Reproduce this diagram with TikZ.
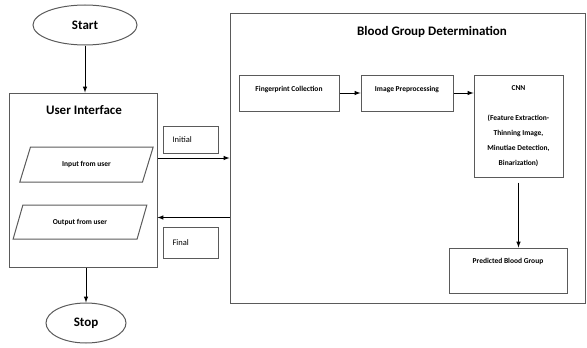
\documentclass[tikz,border=0pt]{standalone}
\usepackage{fontspec}
\setmainfont{Carlito}
\usepackage{xcolor}
\usepackage{tikz}
\usetikzlibrary{arrows,shapes}
\definecolor{boxgray}{RGB}{90,90,90}

\begin{document}
\begin{tikzpicture}[x=1pt,y=-1pt,>=latex,
	box/.style={draw=boxgray,line width=1pt,rectangle,inner sep=0pt},
	io/.style={draw=boxgray,line width=1pt,trapezium,trapezium left angle=54,trapezium right angle=126,trapezium stretches=true,inner sep=0pt,font=\fontsize{7.5}{9}\selectfont\bfseries},
	term/.style={draw=boxgray,line width=1pt,ellipse,font=\fontsize{13}{15}\selectfont\bfseries},
	small/.style={font=\fontsize{7.5}{9}\selectfont\bfseries},
	tag/.style={box,minimum width=55pt,text width=36pt,align=left,font=\fontsize{8.5}{10}\selectfont}]
	\useasboundingbox (0,0) rectangle (587,348);
	%
	\node[term,minimum width=104pt,minimum height=40pt] (start) at (85,25) {Start};
	\node[box,minimum width=148pt,minimum height=174pt] (ui) at (83,180) {};
	\node[font=\fontsize{13}{15}\selectfont\bfseries] (uititle) at (84,110) {User Interface};
	\node[io,minimum width=134pt,minimum height=35pt] (input) at (86.5,164.5) {Input from user};
	\node[io,minimum width=134pt,minimum height=34pt] (output) at (80,222) {Output from user};
	\node[term,minimum width=80pt,minimum height=40pt] (stop) at (86,323) {Stop};
	%
	\node[tag,minimum height=27pt] (initial) at (190.5,139.5) {Initial};
	\node[tag,minimum height=31pt] (final) at (190.5,242.5) {Final};
	%
	\node[box,minimum width=355pt,minimum height=290pt] (bgd) at (407.5,158) {};
	\node[font=\fontsize{13}{15}\selectfont\bfseries] (bgdtitle) at (432,32) {Blood Group Determination};
	\node[box,small,minimum width=100pt,minimum height=36pt,text height=6pt,text depth=10pt] (fp) at (289,93) {Fingerprint Collection};
	\node[box,small,minimum width=92pt,minimum height=36pt,text height=6pt,text depth=10pt] (ip) at (407,93) {Image Preprocessing};
	\node[box,minimum width=89pt,minimum height=102pt,align=center,font=\fontsize{7.5}{15}\selectfont\bfseries] (cnn) at (518.5,126)
		{CNN\\[15pt](Feature Extraction-\\Thinning Image,\\Minutiae Detection,\\Binarization)};
	\node[box,small,minimum width=118pt,minimum height=45pt,text height=6pt,text depth=21pt] (pred) at (508,270.5) {Predicted Blood Group};
	%
	\path[->,line width=1pt]
	(start.south) edge (start.south |- ui.north)
	(ui.south -| stop.north) edge (stop.north)
	([yshift=22pt]ui.east) edge ([yshift=22pt]ui.east -| bgd.west)
	([yshift=-37.5pt]ui.east -| bgd.west) edge ([yshift=-37.5pt]ui.east)
	(fp) edge (ip)
	(ip.east) edge (ip.east -| cnn.west)
	([yshift=-5pt]cnn.south) edge (cnn.south |- pred.north);
\end{tikzpicture}
\end{document}
